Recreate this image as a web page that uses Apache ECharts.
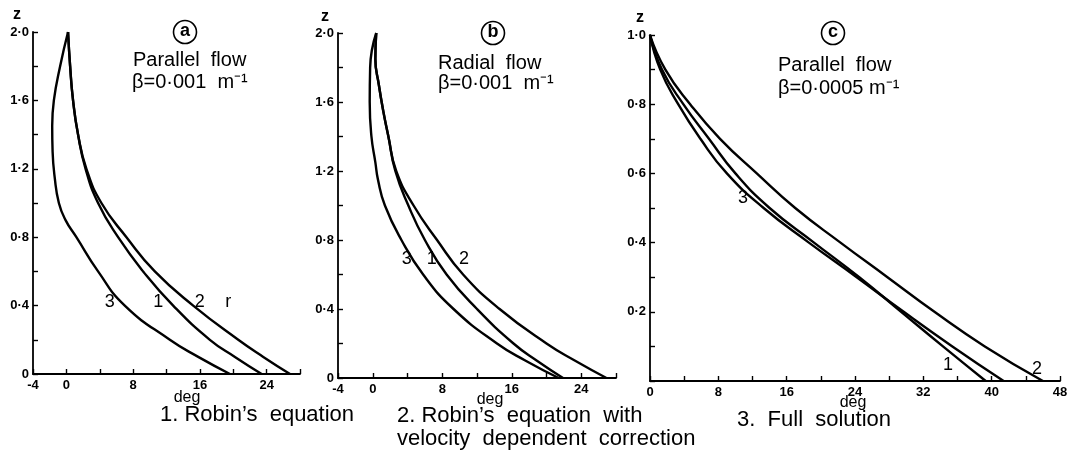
<!DOCTYPE html>
<html>
<head>
<meta charset="utf-8">
<script src="https://cdn.jsdelivr.net/npm/echarts@6/dist/echarts.min.js"></script>
<style>
  html, body { margin: 0; padding: 0; background: #fff; }
  #chart { width: 1072px; height: 450px; }
</style>
</head>
<body>
<div id="chart"></div>
<script>
  // curve points: [deg, z]
  // panel a - parallel flow, beta = 0.001
  const curveA1 = [[0.2,2.0],[0.45,1.8],[0.8,1.6],[1.4,1.4],[2.3,1.2],[3.8,1.0],[6.2,0.8],[9.2,0.6],[12.8,0.4],[17.2,0.2],[20.2,0.1],[23.4,0]]
  const curveA2 = [[0.2,2.0],[0.45,1.8],[0.8,1.6],[1.4,1.4],[2.4,1.2],[4.2,1.0],[7.2,0.8],[10.6,0.6],[15.2,0.4],[20.6,0.2],[23.6,0.1],[26.8,0]]
  const curveA3 = [[0.2,2.0],[-0.75,1.8],[-1.5,1.6],[-1.7,1.45],[-1.65,1.3],[-1.4,1.15],[-0.9,1.0],[-0.1,0.9],[1.2,0.8],[3.8,0.6],[7.0,0.4],[12.4,0.2],[15.8,0.1],[19.6,0]]
  // panel b - radial flow, beta = 0.001
  const curveB1 = [[0.4,2.0],[0.3,1.85],[0.7,1.7],[1.2,1.55],[1.8,1.4],[2.6,1.2],[4.1,1.0],[6.0,0.8],[8.5,0.6],[12.0,0.4],[16.2,0.2],[18.9,0.1],[21.9,0]]
  const curveB2 = [[0.4,2.0],[0.3,1.85],[0.7,1.7],[1.2,1.55],[1.8,1.4],[2.7,1.2],[4.7,1.0],[7.4,0.8],[10.4,0.6],[14.6,0.4],[20.0,0.2],[23.3,0.1],[26.9,0]]
  const curveB3 = [[0.4,2.0],[-0.3,1.8],[-0.35,1.6],[-0.15,1.4],[0.3,1.25],[0.6,1.15],[1.4,1.0],[3.3,0.8],[5.8,0.6],[9.3,0.4],[14.3,0.2],[17.6,0.1],[21.4,0]]
  // panel c - parallel flow, beta = 0.0005
  const curveC1 = [[0,1.0],[1.4,0.9],[3.9,0.8],[6.9,0.7],[10.0,0.6],[14.0,0.5],[19.2,0.4],[24.5,0.3],[29.4,0.2],[34.3,0.1],[39.3,0]]
  const curveC2 = [[0,1.0],[1.8,0.9],[4.7,0.8],[8.2,0.7],[12.5,0.6],[17.0,0.5],[22.3,0.4],[27.8,0.3],[33.3,0.2],[39.2,0.1],[46.0,0]]
  const curveC3 = [[0,1.0],[1.2,0.9],[3.3,0.8],[5.9,0.7],[9.0,0.6],[13.3,0.5],[18.6,0.4],[24.2,0.3],[29.7,0.2],[35.4,0.1],[41.4,0]]

  // curve numbers written on the plots: [text, deg, z]
  const numbersA = [['3',5.2,0.42],['1',11.0,0.42],['2',16.0,0.42],['r',19.4,0.42]]
  const numbersB = [['3',3.9,0.69],['1',6.8,0.69],['2',10.5,0.69]]
  const numbersC = [['3',10.9,0.53],['1',34.9,0.045],['2',45.3,0.035]]

  // axis ranges: [min, max, tick step, label step]
  const degAxisAB = [-4, 28, 4, 8]
  const degAxisC = [0, 48, 4, 8]
  const zAxisAB = [0, 2.0, 0.2, 0.4]
  const zAxisC = [0, 1.0, 0.1, 0.2]

  const ink = '#000'
  const fontFam = '"Liberation Sans", Arial, Helvetica, sans-serif'

  function degAxis(idx, r) {
    return {
      type: 'value', gridIndex: idx, min: r[0], max: r[1], interval: r[2],
      axisLine: { show: true, onZero: false, lineStyle: { color: ink, width: 1.8 } },
      axisTick: { show: true, inside: true, length: 5, lineStyle: { color: ink, width: 1.4 } },
      splitLine: { show: false },
      axisLabel: {
        color: ink, fontSize: 13, fontWeight: 'bold', fontFamily: fontFam, margin: 5,
        showMinLabel: true, showMaxLabel: true,
        formatter: (v) => (v === -4 || (v % r[3] === 0 && v < 28) || (r[1] === 48 && v % 8 === 0)) ? String(v) : ''
      }
    }
  }

  function zAxis(idx, r, showZero) {
    return {
      type: 'value', gridIndex: idx, min: r[0], max: r[1], interval: r[2],
      axisLine: { show: true, onZero: false, lineStyle: { color: ink, width: 1.8 } },
      axisTick: { show: true, inside: true, length: 5, lineStyle: { color: ink, width: 1.4 } },
      splitLine: { show: false },
      axisLabel: {
        color: ink, fontSize: 13, fontWeight: 'bold', fontFamily: fontFam, margin: 4,
        showMinLabel: true, showMaxLabel: true,
        formatter: (v) => {
          const k = Math.round(v * 10)
          if (k % Math.round(r[3] * 10) !== 0) return ''
          if (k === 0) return showZero ? '0' : ''
          return v.toFixed(1).replace('.', '·')
        }
      }
    }
  }

  function curve(idx, data) {
    return {
      type: 'line', xAxisIndex: idx, yAxisIndex: idx, data: data,
      showSymbol: false, smooth: 0.5, clip: false, silent: true,
      lineStyle: { color: ink, width: 2.4 }
    }
  }

  function numbers(idx, list) {
    return {
      type: 'scatter', xAxisIndex: idx, yAxisIndex: idx, symbolSize: 0, silent: true,
      itemStyle: { opacity: 1 },
      data: list.map(d => ({ name: d[0], value: [d[1], d[2]] })),
      label: {
        show: true, position: 'inside', formatter: '{b}', opacity: 1,
        color: ink, fontSize: 18, fontFamily: fontFam
      }
    }
  }

  function txt(s, x, y, size, weight, align) {
    return {
      type: 'text', silent: true,
      style: {
        text: s, x: x, y: y, fill: ink, textAlign: align || 'left', textVerticalAlign: 'middle',
        font: (weight || 'normal') + ' ' + size + 'px ' + fontFam
      }
    }
  }

  function ring(x, y, letter) {
    return [
      { type: 'circle', silent: true, shape: { cx: x, cy: y, r: 11.5 }, style: { fill: 'none', stroke: ink, lineWidth: 1.6 } },
      txt(letter, x, y - 1, 18, 'bold', 'center')
    ]
  }

  const chart = echarts.init(document.getElementById('chart'), null, { renderer: 'canvas' })

  const option = {
    backgroundColor: '#fff',
    animation: false,
    grid: [
      { left: 33, top: 32, width: 267, height: 342 },
      { left: 338, top: 33, width: 278, height: 345 },
      { left: 650, top: 35, width: 410, height: 346 }
    ],
    xAxis: [degAxis(0, degAxisAB), degAxis(1, degAxisAB), degAxis(2, degAxisC)],
    yAxis: [zAxis(0, zAxisAB, true), zAxis(1, zAxisAB, true), zAxis(2, zAxisC, false)],
    series: [
      curve(0, curveA1), curve(0, curveA2), curve(0, curveA3), numbers(0, numbersA),
      curve(1, curveB1), curve(1, curveB2), curve(1, curveB3), numbers(1, numbersB),
      curve(2, curveC1), curve(2, curveC2), curve(2, curveC3), numbers(2, numbersC)
    ],
    graphic: [
      txt('z', 17, 15, 16, 'bold', 'center'),
      txt('z', 325, 17, 16, 'bold', 'center'),
      txt('z', 640, 18, 16, 'bold', 'center'),
      ...ring(185, 32, 'a'),
      ...ring(493, 33, 'b'),
      ...ring(833, 33, 'c'),
      txt('Parallel  flow', 133, 60, 20),
      txt('β=0·001  m⁻¹', 132, 82, 20),
      txt('Radial  flow', 438, 63, 20),
      txt('β=0·001  m⁻¹', 438, 83, 20),
      txt('Parallel  flow', 778, 65, 20),
      txt('β=0·0005 m⁻¹', 778, 88, 20),
      txt('deg', 187, 398, 16, 'normal', 'center'),
      txt('deg', 490, 400, 16, 'normal', 'center'),
      txt('deg', 853, 403, 16, 'normal', 'center'),
      txt('1. Robin’s  equation', 160, 415, 22),
      txt('2. Robin’s  equation  with', 397, 416, 22),
      txt('velocity  dependent  correction', 397, 439, 22),
      txt('3.  Full  solution', 737, 420, 22)
    ]
  }

  chart.setOption(option)
</script>
</body>
</html>
